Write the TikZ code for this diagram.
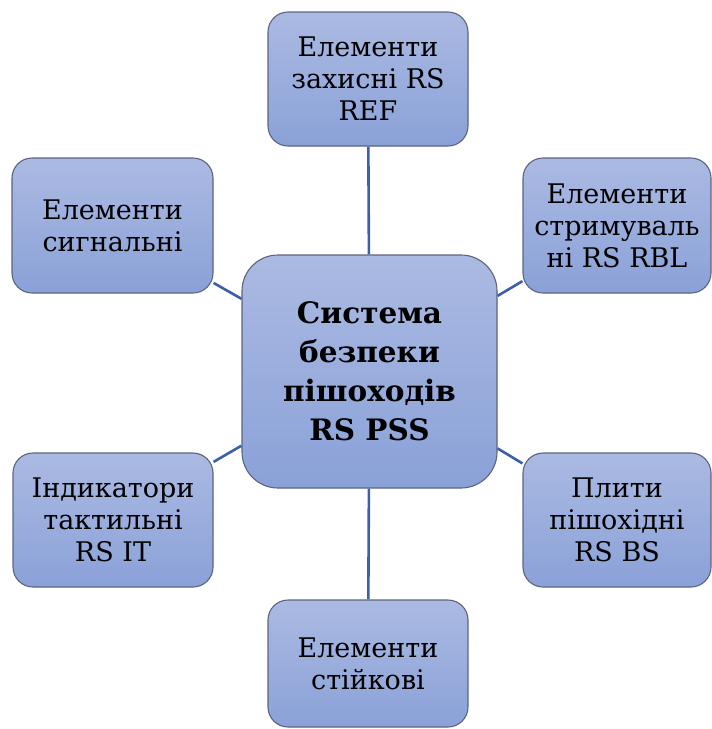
\documentclass[tikz,border=0pt]{standalone}
\usepackage{fontspec}
\setmainfont{DejaVu Serif}
\definecolor{boxtop}{RGB}{171,186,226}
\definecolor{boxbot}{RGB}{138,161,216}
\definecolor{boxline}{RGB}{92,100,128}
\definecolor{linkblue}{RGB}{58,96,172}
\tikzset{
  part/.style={draw=boxline, line width=1.1pt, rounded corners=20pt,
    top color=boxtop, bottom color=boxbot, align=center, inner sep=2pt,
    font=\rmfamily\fontsize{27}{32}\selectfont},
  hub/.style={part, rounded corners=36pt, font=\rmfamily\fontsize{29.5}{39}\selectfont\bfseries},
  link/.style={draw=linkblue, line width=2.6pt}
}
\begin{document}
\begin{tikzpicture}[x=1pt, y=-1pt]
  \useasboundingbox (0,0) rectangle (712,729);
  % centre
  \node[hub, minimum width=255pt, minimum height=233pt] (pss) at (369.5,371.5)
    {Система\\безпеки\\пішоходів\\RS PSS};
  % parts around it
  \node[part, minimum width=200pt, minimum height=134pt] (ref) at (368,79)
    {Елементи\\захисні RS\\REF};
  \node[part, minimum width=201pt, minimum height=135pt] (sig) at (112.5,225.5)
    {Елементи\\сигнальні};
  \node[part, minimum width=188pt, minimum height=135pt] (rbl) at (617,225.5)
    {Елементи\\стримуваль\\ні RS RBL};
  \node[part, minimum width=200pt, minimum height=134pt] (it) at (113,520)
    {Індикатори\\тактильні\\RS IT};
  \node[part, minimum width=188pt, minimum height=134pt] (bs) at (617,520)
    {Плити\\пішохідні\\RS BS};
  \node[part, minimum width=200pt, minimum height=127pt] (post) at (368,663.5)
    {Елементи\\стійкові};
  % connectors
  \foreach \p in {ref,sig,rbl,it,bs,post}
    \draw[link] (pss) -- (\p);
\end{tikzpicture}
\end{document}
